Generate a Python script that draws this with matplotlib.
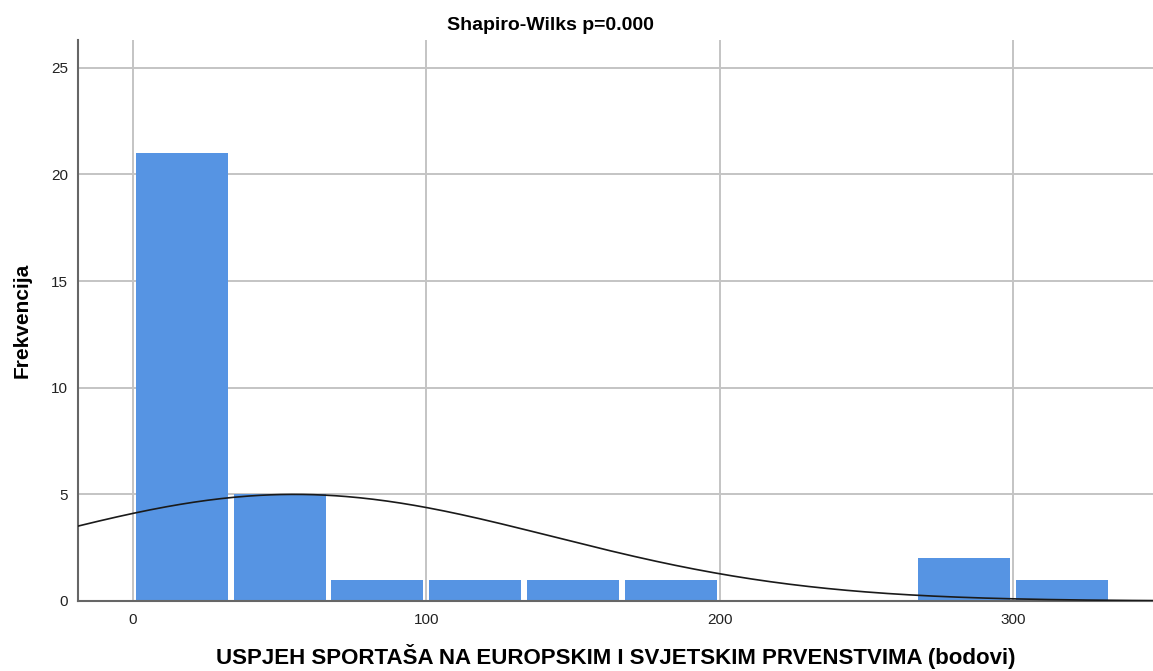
import numpy as np
import matplotlib
matplotlib.use("Agg")
import matplotlib.pyplot as plt

plt.rcParams['font.family'] = ['Liberation Sans', 'DejaVu Sans']

# histogram bins (bodovi) and frequencies
bin_edges = [0, 33.33, 66.67, 100, 133.33, 166.67, 200, 233.33, 266.67, 300, 333.33]
counts = [21, 5, 1, 1, 1, 1, 0, 0, 2, 1]

# fitted normal curve
mean_val = 55.0
sd_val = 87.8
n_total = sum(counts)

fig = plt.figure(figsize=(11.53, 6.71), dpi=100)
ax = fig.add_axes([78/1153, 70/671, 1 - 78/1153, 561/671])

edges = np.array(bin_edges)
widths = np.diff(edges)
gap = 1.0
ax.bar(edges[:-1] + gap, counts, width=widths - 2*gap, align='edge', color='#5694e3',
       linewidth=0, zorder=2)

xs = np.linspace(-20, 350, 400)
bw = widths.mean()
ys = n_total * bw / (sd_val * np.sqrt(2 * np.pi)) * np.exp(-(xs - mean_val)**2 / (2 * sd_val**2))
ax.plot(xs, ys, color='#1a1a1a', linewidth=1.2, zorder=3)

ax.set_xlim(-18.75, 347.8)
ax.set_ylim(0, 26.3)
ax.set_xticks([0, 100, 200, 300])
ax.set_yticks([0, 5, 10, 15, 20, 25])
ax.grid(True, color='#c4c4c4', linewidth=1.4, zorder=0)
ax.set_axisbelow(True)
ax.tick_params(length=0, labelsize=11, colors='#222222')
ax.tick_params(axis='x', pad=9)
ax.tick_params(axis='y', pad=7)

for s in ['top', 'right']:
    ax.spines[s].set_visible(False)
for s in ['left', 'bottom']:
    ax.spines[s].set_color('#666666')
    ax.spines[s].set_linewidth(1.5)

fig.text(550/1153, 1 - 26/671, 'Shapiro-Wilks p=0.000', fontsize=14, fontweight='bold',
         ha='center', va='center')
ax.set_ylabel('Frekvencija', fontsize=15, fontweight='bold', labelpad=14)
ax.set_xlabel('USPJEH SPORTAŠA NA EUROPSKIM I SVJETSKIM PRVENSTVIMA (bodovi)',
              fontsize=16, fontweight='bold', labelpad=12)

fig.savefig('out.png', dpi=100)
